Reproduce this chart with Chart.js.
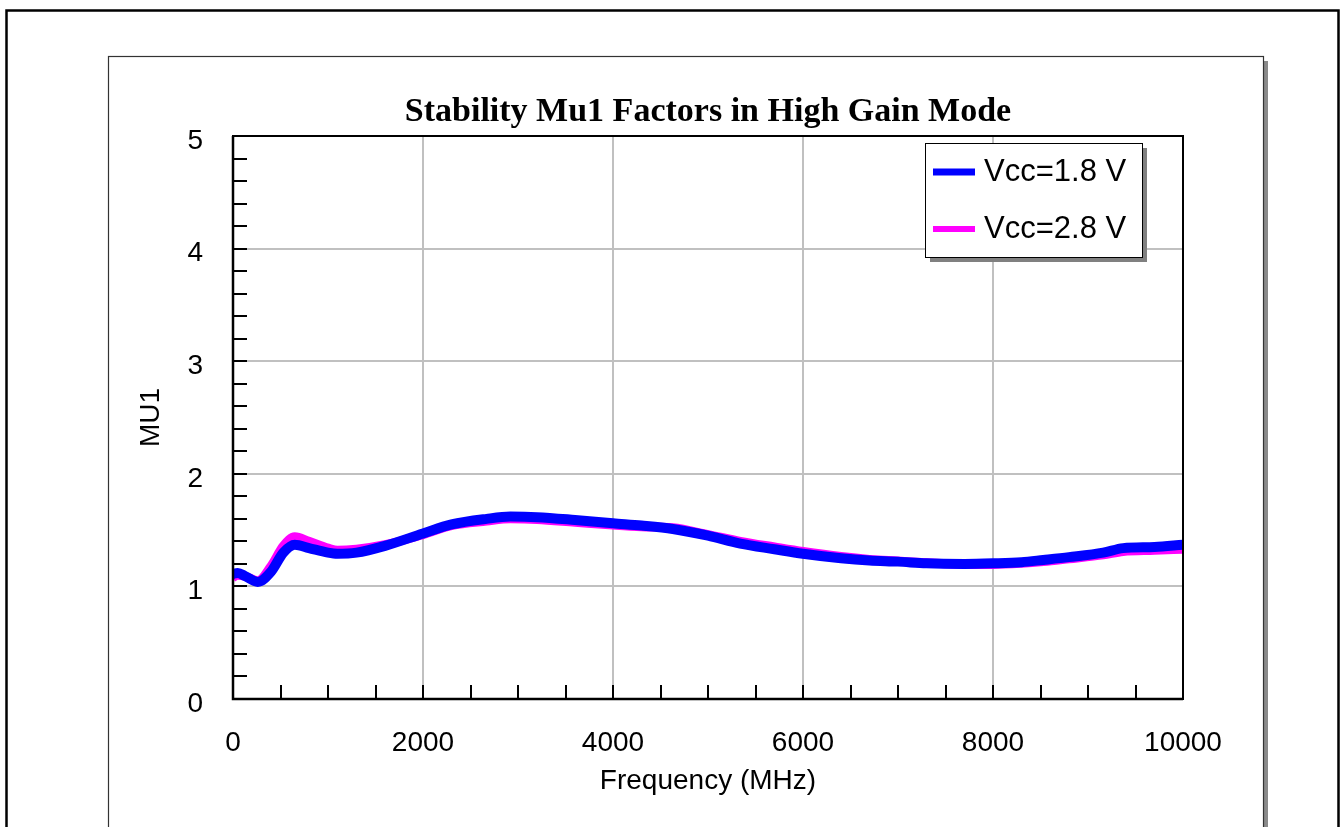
<!DOCTYPE html>
<html>
<head>
<meta charset="utf-8">
<title>Stability Mu1 Factors in High Gain Mode</title>
<script src="https://cdn.jsdelivr.net/npm/chart.js@4.4.1/dist/chart.umd.min.js"></script>
<style>
	html, body { margin: 0; padding: 0; background: #fff; }
	canvas { display: block; }
</style>
</head>
<body>
<canvas id="chart1" width="1341" height="827"></canvas>
<script>
// data (MHz / MU1)
var freq = [0, 50, 130, 260, 400, 530, 650, 800, 1000, 1100, 1300, 1600, 2000, 2300, 2670, 2920, 3200, 3600, 4000, 4300, 4630, 5000, 5340, 5700, 6000, 6400, 6700, 7000, 7300, 7700, 8000, 8300, 8530, 8800, 9160, 9370, 9700, 10000];
var mu1Vcc18 = [1.11, 1.12, 1.09, 1.04, 1.13, 1.30, 1.37, 1.34, 1.30, 1.29, 1.30, 1.36, 1.47, 1.55, 1.60, 1.62, 1.615, 1.59, 1.56, 1.54, 1.51, 1.45, 1.38, 1.33, 1.29, 1.25, 1.23, 1.22, 1.205, 1.20, 1.205, 1.215, 1.235, 1.26, 1.30, 1.34, 1.35, 1.37];
var mu1Vcc28 = [1.08, 1.10, 1.09, 1.05, 1.18, 1.36, 1.44, 1.40, 1.34, 1.32, 1.33, 1.37, 1.46, 1.54, 1.58, 1.60, 1.595, 1.57, 1.545, 1.53, 1.52, 1.46, 1.40, 1.35, 1.31, 1.265, 1.24, 1.225, 1.21, 1.195, 1.195, 1.205, 1.22, 1.245, 1.28, 1.31, 1.32, 1.33];

var seriesNames = ["Vcc=1.8 V", "Vcc=2.8 V"];
var xTicks = [0, 2000, 4000, 6000, 8000, 10000];
var yTicks = [0, 1, 2, 3, 4, 5];
var xMinorTicks = [500, 1000, 1500, 2500, 3000, 3500, 4500, 5000, 5500, 6500, 7000, 7500, 8500, 9000, 9500];
var yMinorTicks = [0.2, 0.4, 0.6, 0.8, 1.2, 1.4, 1.6, 1.8, 2.2, 2.4, 2.6, 2.8, 3.2, 3.4, 3.6, 3.8, 4.2, 4.4, 4.6, 4.8];

function toPoints(xs, ys) {
	return xs.map(function(x, i) { return { x: x, y: ys[i] }; });
}

// page frame, panel with shadow, title
var framePlugin = {
	id: "frame",
	beforeDraw: function(chart) {
		var ctx = chart.ctx;
		ctx.save();
		ctx.fillStyle = "#fff";
		ctx.fillRect(0, 0, chart.width, chart.height);
		// outer border
		ctx.strokeStyle = "#000";
		ctx.lineWidth = 2.5;
		ctx.strokeRect(6.5, 10.5, 1332, 840);
		// panel shadow
		ctx.fillStyle = "#8a8a8a";
		ctx.fillRect(1264, 61, 4, 800);
		// panel
		ctx.fillStyle = "#fff";
		ctx.fillRect(108.5, 56.5, 1155, 800);
		ctx.strokeStyle = "#333";
		ctx.lineWidth = 1.2;
		ctx.strokeRect(108.5, 56.5, 1155, 800);
		ctx.restore();
	},
	afterDraw: function(chart) {
		var ctx = chart.ctx, a = chart.chartArea;
		ctx.save();
		ctx.fillStyle = "#000";
		ctx.font = "bold 34px 'Liberation Serif', 'Times New Roman', serif";
		ctx.textAlign = "center";
		ctx.textBaseline = "middle";
		ctx.fillText("Stability Mu1 Factors in High Gain Mode", (a.left + a.right) / 2, 112);
		ctx.restore();
	}
};

// black plot frame and inward minor ticks
var axesPlugin = {
	id: "axesFrame",
	afterDatasetsDraw: function(chart) {
		var ctx = chart.ctx, a = chart.chartArea;
		var xs = chart.scales.x, ys = chart.scales.y;
		ctx.save();
		ctx.strokeStyle = "#000";
		ctx.lineWidth = 2;
		ctx.beginPath();
		yMinorTicks.concat(yTicks).forEach(function(v) {
			var py = Math.round(ys.getPixelForValue(v));
			ctx.moveTo(a.left, py);
			ctx.lineTo(a.left + 14, py);
		});
		xMinorTicks.concat(xTicks).forEach(function(v) {
			var px = Math.round(xs.getPixelForValue(v));
			ctx.moveTo(px, a.bottom);
			ctx.lineTo(px, a.bottom - 14);
		});
		ctx.stroke();
		ctx.lineWidth = 2;
		ctx.strokeRect(a.left, a.top, a.right - a.left, a.bottom - a.top);
		ctx.lineWidth = 2.5;
		ctx.beginPath();
		ctx.moveTo(a.left, a.top);
		ctx.lineTo(a.left, a.bottom);
		ctx.lineTo(a.right, a.bottom);
		ctx.stroke();
		ctx.restore();
	}
};

// boxed legend with drop shadow inside the plot
var legendPlugin = {
	id: "boxLegend",
	afterDraw: function(chart) {
		var ctx = chart.ctx;
		var bx = 925, by = 143, bw = 217, bh = 114;
		ctx.save();
		ctx.fillStyle = "#808080";
		ctx.fillRect(bx + 5, by + 5, bw, bh);
		ctx.fillStyle = "#fff";
		ctx.fillRect(bx, by, bw, bh);
		ctx.strokeStyle = "#000";
		ctx.lineWidth = 1;
		ctx.strokeRect(bx + 0.5, by + 0.5, bw, bh);
		ctx.font = "31px 'Liberation Sans', Arial, sans-serif";
		ctx.textBaseline = "middle";
		ctx.textAlign = "left";
		chart.data.datasets.forEach(function(ds, i) {
			var cy = by + 29 + i * 57;
			ctx.strokeStyle = ds.borderColor;
			ctx.lineWidth = i === 0 ? 7 : 6;
			ctx.beginPath();
			ctx.moveTo(bx + 8, cy);
			ctx.lineTo(bx + 50, cy);
			ctx.stroke();
			ctx.fillStyle = "#000";
			ctx.fillText(ds.label, bx + 59, cy);
		});
		ctx.restore();
	}
};

var tickFont = { family: "'Liberation Sans', Arial, sans-serif", size: 28 };
var titleFont = { family: "'Liberation Sans', Arial, sans-serif", size: 28 };

var chart = new Chart(document.getElementById("chart1"), {
	type: "line",
	data: {
		datasets: [{
			label: seriesNames[0],
			data: toPoints(freq, mu1Vcc18),
			borderColor: "#0000ff",
			borderWidth: 10,
			pointRadius: 0,
			cubicInterpolationMode: "monotone",
			clip: 0
		}, {
			label: seriesNames[1],
			data: toPoints(freq, mu1Vcc28),
			borderColor: "#ff00ff",
			borderWidth: 9,
			pointRadius: 0,
			cubicInterpolationMode: "monotone",
			clip: 0
		}]
	},
	options: {
		responsive: false,
		devicePixelRatio: 1,
		animation: false,
		layout: {
			padding: { left: 108, right: 158, top: 136, bottom: 0 }
		},
		plugins: {
			legend: { display: false },
			tooltip: { enabled: false },
			title: { display: false }
		},
		scales: {
			x: {
				type: "linear",
				min: 0,
				max: 10000,
				afterBuildTicks: function(s) {
					s.ticks = xTicks.map(function(v) { return { value: v }; });
				},
				afterFit: function(s) { s.height = 128; },
				grid: { color: "#c0c0c0", lineWidth: 2, drawTicks: false },
				border: { display: false },
				ticks: {
					color: "#000",
					font: tickFont,
					padding: 27,
					maxRotation: 0,
					callback: function(v) { return String(v); }
				},
				title: {
					display: true,
					text: "Frequency (MHz)",
					color: "#000",
					font: titleFont,
					padding: { top: 0, bottom: 29 }
				}
			},
			y: {
				type: "linear",
				min: 0,
				max: 5,
				afterBuildTicks: function(s) {
					s.ticks = yTicks.map(function(v) { return { value: v }; });
				},
				afterFit: function(s) { s.width = 125; },
				grid: { color: "#c0c0c0", lineWidth: 2, drawTicks: false },
				border: { display: false },
				ticks: {
					color: "#000",
					font: tickFont,
					padding: 30,
					labelOffset: 5,
					callback: function(v) { return String(v); }
				},
				title: {
					display: true,
					text: "MU1",
					color: "#000",
					font: titleFont,
					padding: { top: 26, bottom: 0 }
				}
			}
		}
	},
	plugins: [framePlugin, axesPlugin, legendPlugin]
});
</script>
</body>
</html>
